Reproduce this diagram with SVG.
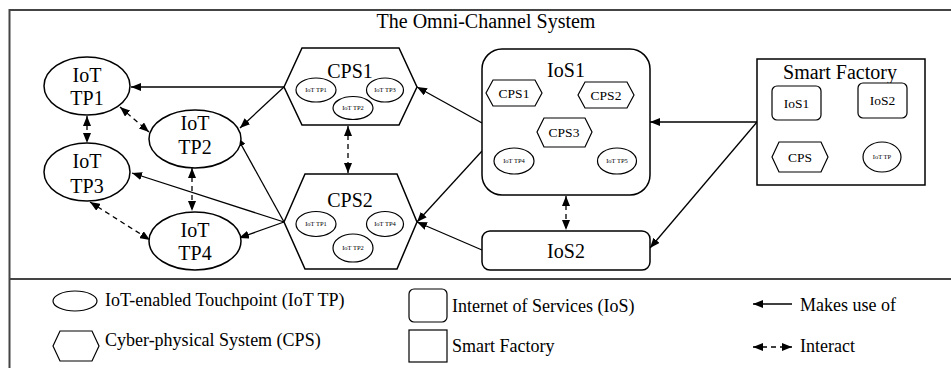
<svg xmlns="http://www.w3.org/2000/svg" width="951" height="368" viewBox="0 0 951 368">
<style>
text{font-family:"Liberation Serif","Times New Roman",serif;fill:#000;text-anchor:middle}
.n{fill:#fff;stroke:#000;stroke-width:1.5}
.s{fill:#fff;stroke:#000;stroke-width:1.2}
.lbl{font-size:20px}
.tiny{font-size:6.5px}
.sm{font-size:13.5px}
.leg{font-size:18px;text-anchor:start}
.c{fill:none;stroke:#000;stroke-width:1.3}
.d{stroke-dasharray:5 4}
.frame{fill:none;stroke:#444;stroke-width:2}
</style>
<defs>
<marker id="ah" viewBox="0 0 10 8" refX="10" refY="4" markerWidth="10" markerHeight="8" markerUnits="userSpaceOnUse" orient="auto-start-reverse">
<path d="M0,0 L10,4 L0,8 z" fill="#000"/>
</marker>
</defs>
<rect width="951" height="368" fill="#fff"/>
<path class="frame" d="M9.5,368 V10 H951 M9.5,279 H951"/>
<text class="lbl" x="486" y="28">The Omni-Channel System</text>

<g id="connectors">
<line class="c" x1="284" y1="87" x2="131" y2="87" marker-end="url(#ah)"/>
<line class="c" x1="284" y1="87" x2="240" y2="128" marker-end="url(#ah)"/>
<line class="c" x1="284" y1="222" x2="237" y2="137" marker-end="url(#ah)"/>
<line class="c" x1="284" y1="222" x2="132" y2="173" marker-end="url(#ah)"/>
<line class="c" x1="284" y1="222" x2="239" y2="238" marker-end="url(#ah)"/>
<line class="c" x1="482" y1="123" x2="417" y2="87" marker-end="url(#ah)"/>
<line class="c" x1="482" y1="151" x2="417" y2="222" marker-end="url(#ah)"/>
<line class="c" x1="482" y1="250" x2="417" y2="222" marker-end="url(#ah)"/>
<line class="c" x1="757" y1="122" x2="650" y2="122" marker-end="url(#ah)"/>
<line class="c" x1="757" y1="122" x2="650" y2="248" marker-end="url(#ah)"/>
<line class="c d" x1="87" y1="116" x2="87" y2="143" marker-start="url(#ah)" marker-end="url(#ah)"/>
<line class="c d" x1="120" y1="107" x2="149" y2="132" marker-start="url(#ah)" marker-end="url(#ah)"/>
<line class="c d" x1="192" y1="168" x2="192" y2="211" marker-start="url(#ah)" marker-end="url(#ah)"/>
<line class="c d" x1="90" y1="202" x2="150" y2="240" marker-start="url(#ah)" marker-end="url(#ah)"/>
<line class="c d" x1="348" y1="126" x2="348" y2="173" marker-start="url(#ah)" marker-end="url(#ah)"/>
<line class="c d" x1="566" y1="196" x2="566" y2="230" marker-start="url(#ah)" marker-end="url(#ah)"/>
</g>

<g id="tp1"><ellipse class="n" cx="87" cy="86" rx="43" ry="29"/><text class="lbl" x="87" y="82">IoT</text><text class="lbl" x="87" y="105">TP1</text></g>
<g id="tp2"><ellipse class="n" cx="195" cy="139" rx="46" ry="29"/><text class="lbl" x="195" y="130">IoT</text><text class="lbl" x="195" y="154">TP2</text></g>
<g id="tp3"><ellipse class="n" cx="87" cy="172" rx="43" ry="29"/><text class="lbl" x="87" y="168">IoT</text><text class="lbl" x="87" y="193">TP3</text></g>
<g id="tp4"><ellipse class="n" cx="195" cy="241" rx="46" ry="29"/><text class="lbl" x="195" y="237">IoT</text><text class="lbl" x="195" y="260">TP4</text></g>

<g id="cps1">
<polygon class="n" points="284,87 302,48 399,48 417,87 399,125 302,125"/>
<text class="lbl" x="350" y="78">CPS1</text>
<ellipse class="s" cx="316" cy="90" rx="20" ry="12"/><text class="tiny" x="316" y="92">IoT TP1</text>
<ellipse class="s" cx="385" cy="90" rx="18.5" ry="12"/><text class="tiny" x="385" y="92">IoT TP3</text>
<ellipse class="s" cx="353" cy="108" rx="20" ry="11.5"/><text class="tiny" x="353" y="110">IoT TP2</text>
</g>
<g id="cps2">
<polygon class="n" points="284,222 305,174 397,174 417,222 397,269 305,269"/>
<text class="lbl" x="350" y="207">CPS2</text>
<ellipse class="s" cx="316" cy="224" rx="20" ry="12.5"/><text class="tiny" x="316" y="226">IoT TP1</text>
<ellipse class="s" cx="385" cy="224" rx="18.5" ry="12.5"/><text class="tiny" x="385" y="226">IoT TP4</text>
<ellipse class="s" cx="353" cy="248" rx="20" ry="14"/><text class="tiny" x="353" y="250">IoT TP2</text>
</g>
<g id="ios1">
<rect class="n" x="482" y="49" width="168" height="146" rx="20"/>
<text class="lbl" x="566" y="77">IoS1</text>
<polygon class="s" points="486,93 493,80 535,80 542,93 535,106 493,106"/><text class="sm" x="514" y="98">CPS1</text>
<polygon class="s" points="578,95 585,82 627,82 634,95 627,108 585,108"/><text class="sm" x="606" y="100">CPS2</text>
<polygon class="s" points="537,132 544,118 585,118 592,132 585,147 544,147"/><text class="sm" x="564" y="137">CPS3</text>
<ellipse class="s" cx="514" cy="161" rx="20" ry="13"/><text class="tiny" x="514" y="163">IoT TP4</text>
<ellipse class="s" cx="617" cy="161" rx="19.5" ry="13"/><text class="tiny" x="617" y="163">IoT TP5</text>
</g>
<g id="ios2">
<rect class="n" x="482" y="231" width="168" height="39" rx="8"/>
<text class="lbl" x="566" y="258">IoS2</text>
</g>
<g id="smartfactory">
<rect class="n" x="757" y="59" width="168" height="126"/>
<text class="lbl" x="840" y="79">Smart Factory</text>
<rect class="s" x="772" y="86" width="49" height="34" rx="5"/><text class="sm" x="796.5" y="108">IoS1</text>
<rect class="s" x="858" y="83" width="49" height="35" rx="5"/><text class="sm" x="882.5" y="105">IoS2</text>
<polygon class="s" points="772,157 779,142 821,142 828,157 821,172 779,172"/><text class="sm" x="800" y="162">CPS</text>
<ellipse class="s" cx="882" cy="157" rx="19" ry="15"/><text class="tiny" x="882" y="159">IoT TP</text>
</g>

<g id="legend">
<ellipse class="s" cx="75" cy="301" rx="22" ry="10"/>
<text class="leg" x="105" y="306">IoT-enabled Touchpoint (IoT TP)</text>
<polygon class="s" points="53,346 60,331 92,331 99,346 92,361 60,361"/>
<text class="leg" x="105" y="346">Cyber-physical System (CPS)</text>
<rect class="s" x="409" y="289" width="38" height="33" rx="5"/>
<text class="leg" x="452" y="312">Internet of Services (IoS)</text>
<rect class="s" x="409" y="330" width="38" height="32"/>
<text class="leg" x="452" y="352">Smart Factory</text>
<line class="c" x1="792" y1="304" x2="753" y2="304" marker-end="url(#ah)"/>
<text class="leg" x="800" y="311">Makes use of</text>
<line class="c d" x1="753" y1="347" x2="792" y2="347" marker-start="url(#ah)" marker-end="url(#ah)"/>
<text class="leg" x="800" y="352">Interact</text>
</g>
</svg>
